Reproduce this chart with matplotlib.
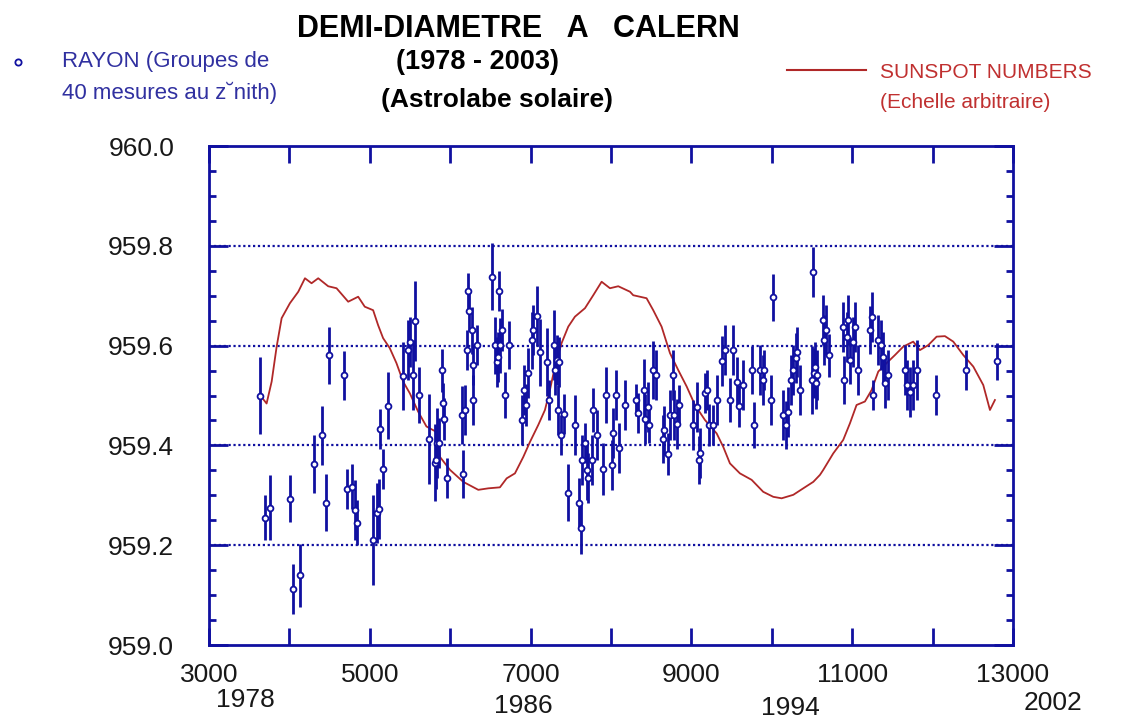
import matplotlib
matplotlib.use("Agg")
import matplotlib.pyplot as plt
import matplotlib.transforms as mtransforms
from matplotlib.ticker import MultipleLocator, FixedLocator, FormatStrFormatter
from matplotlib.lines import Line2D

plt.rcParams['font.family'] = ['Liberation Sans', 'DejaVu Sans']

# Rayon solaire (groupes de 40 mesures), date en JJ - 2440000
jd = [3634, 3697, 3759, 4007, 4045, 4132, 4306, 4405, 4455, 4493,
      4679, 4716, 4779, 4816, 4841, 5040, 5090, 5114, 5127, 5164,
      5226, 5413, 5475, 5500, 5537, 5562, 5612, 5736, 5811, 5823,
      5836, 5861, 5898, 5905, 5923, 5960, 6147, 6159, 6184, 6209,
      6221, 6234, 6271, 6280, 6284, 6333, 6520, 6557, 6582, 6595,
      6607, 6620, 6644, 6682, 6731, 6893, 6918, 6943, 6968, 7017,
      7030, 7080, 7117, 7204, 7229, 7291, 7303, 7328, 7340, 7353,
      7378, 7415, 7465, 7552, 7602, 7627, 7639, 7677, 7701, 7714,
      7764, 7776, 7826, 7900, 7938, 8012, 8025, 8062, 8100, 8174,
      8311, 8336, 8410, 8423, 8460, 8473, 8522, 8560, 8647, 8665,
      8709, 8734, 8771, 8784, 8821, 8846, 9020, 9070, 9095, 9108,
      9169, 9194, 9219, 9269, 9318, 9381, 9418, 9480, 9517, 9567,
      9592, 9642, 9754, 9779, 9853, 9891, 9903, 9990, 10015, 10139,
      10177, 10201, 10239, 10264, 10301, 10313, 10351, 10500, 10512, 10525,
      10537, 10550, 10562, 10637, 10649, 10674, 10711, 10886, 10898, 10935,
      10948, 10973, 11010, 11035, 11072, 11221, 11246, 11259, 11321, 11358,
      11383, 11408, 11445, 11657, 11682, 11719, 11756, 11806, 12042, 12415,
      12801]
rayon = [959.500, 959.255, 959.275, 959.293, 959.112, 959.140, 959.363, 959.420, 959.285, 959.581,
         959.541, 959.313, 959.317, 959.270, 959.245, 959.210, 959.265, 959.272, 959.433, 959.353,
         959.480, 959.539, 959.591, 959.607, 959.541, 959.649, 959.501, 959.413, 959.365, 959.370,
         959.405, 959.405, 959.551, 959.485, 959.453, 959.335, 959.461, 959.343, 959.471, 959.591,
         959.709, 959.669, 959.631, 959.561, 959.491, 959.601, 959.738, 959.601, 959.567, 959.577,
         959.709, 959.601, 959.631, 959.501, 959.601, 959.451, 959.511, 959.481, 959.545, 959.611,
         959.631, 959.659, 959.587, 959.567, 959.491, 959.601, 959.551, 959.571, 959.471, 959.567,
         959.420, 959.463, 959.305, 959.441, 959.285, 959.234, 959.370, 959.405, 959.351, 959.335,
         959.371, 959.471, 959.421, 959.353, 959.501, 959.361, 959.425, 959.501, 959.395, 959.481,
         959.491, 959.465, 959.511, 959.453, 959.477, 959.441, 959.551, 959.541, 959.413, 959.430,
         959.383, 959.461, 959.541, 959.461, 959.443, 959.481, 959.441, 959.477, 959.371, 959.385,
         959.505, 959.511, 959.441, 959.441, 959.491, 959.569, 959.591, 959.491, 959.591, 959.527,
         959.479, 959.521, 959.551, 959.441, 959.551, 959.531, 959.551, 959.491, 959.697, 959.461,
         959.441, 959.467, 959.531, 959.551, 959.575, 959.587, 959.511, 959.531, 959.747, 959.545,
         959.557, 959.525, 959.541, 959.651, 959.611, 959.631, 959.581, 959.637, 959.531, 959.617,
         959.651, 959.571, 959.607, 959.637, 959.551, 959.631, 959.657, 959.501, 959.611, 959.601,
         959.577, 959.525, 959.541, 959.551, 959.521, 959.507, 959.521, 959.551, 959.501, 959.551,
         959.569]
erreur = [0.077, 0.045, 0.065, 0.047, 0.050, 0.063, 0.058, 0.060, 0.057, 0.057,
          0.049, 0.040, 0.045, 0.060, 0.045, 0.090, 0.060, 0.060, 0.040, 0.040,
          0.067, 0.068, 0.060, 0.050, 0.070, 0.080, 0.057, 0.090, 0.077, 0.057,
          0.070, 0.050, 0.043, 0.040, 0.043, 0.040, 0.058, 0.048, 0.050, 0.040,
          0.037, 0.040, 0.047, 0.040, 0.050, 0.040, 0.067, 0.057, 0.050, 0.050,
          0.040, 0.055, 0.042, 0.047, 0.048, 0.050, 0.050, 0.043, 0.050, 0.057,
          0.050, 0.060, 0.067, 0.068, 0.040, 0.070, 0.050, 0.050, 0.050, 0.050,
          0.040, 0.040, 0.057, 0.060, 0.050, 0.052, 0.050, 0.040, 0.060, 0.050,
          0.050, 0.045, 0.050, 0.052, 0.057, 0.050, 0.050, 0.050, 0.050, 0.050,
          0.033, 0.040, 0.063, 0.050, 0.050, 0.037, 0.058, 0.050, 0.048, 0.050,
          0.042, 0.050, 0.050, 0.050, 0.050, 0.040, 0.050, 0.050, 0.048, 0.050,
          0.040, 0.040, 0.043, 0.040, 0.050, 0.050, 0.050, 0.045, 0.050, 0.050,
          0.043, 0.050, 0.048, 0.047, 0.050, 0.050, 0.040, 0.050, 0.047, 0.050,
          0.048, 0.050, 0.050, 0.050, 0.050, 0.050, 0.050, 0.068, 0.050, 0.050,
          0.050, 0.053, 0.050, 0.050, 0.050, 0.050, 0.043, 0.050, 0.048, 0.050,
          0.050, 0.047, 0.050, 0.050, 0.050, 0.048, 0.050, 0.030, 0.050, 0.050,
          0.050, 0.050, 0.050, 0.050, 0.050, 0.050, 0.050, 0.060, 0.040, 0.040,
          0.037]

# Nombre de taches (echelle arbitraire)
ss_jd = [3634, 3717, 3780, 3842, 3904, 4007, 4111, 4194, 4276, 4359,
         4483, 4587, 4732, 4856, 4938, 5042, 5104, 5166, 5249, 5332,
         5415, 5500, 5601, 5705, 5830, 5873, 5998, 6163, 6350, 6475,
         6619, 6703, 6806, 6910, 6993, 7096, 7179, 7241, 7303, 7386,
         7469, 7552, 7677, 7780, 7884, 7988, 8091, 8237, 8277, 8443,
         8526, 8630, 8734, 8837, 8942, 9045, 9169, 9315, 9397, 9480,
         9604, 9750, 9894, 10019, 10123, 10268, 10392, 10517, 10600, 10641,
         10765, 10889, 10972, 11055, 11159, 11242, 11325, 11429, 11532, 11636,
         11760, 11843, 11947, 12051, 12154, 12258, 12383, 12507, 12631, 12714,
         12776]
ss_val = [959.501, 959.484, 959.528, 959.598, 959.655, 959.685, 959.708, 959.735, 959.725, 959.735,
          959.719, 959.715, 959.688, 959.698, 959.678, 959.671, 959.641, 959.615, 959.595, 959.565,
          959.528, 959.504, 959.468, 959.438, 959.427, 959.377, 959.351, 959.327, 959.311, 959.314,
          959.316, 959.334, 959.344, 959.377, 959.407, 959.441, 959.471, 959.511, 959.558, 959.605,
          959.638, 959.658, 959.675, 959.701, 959.728, 959.715, 959.719, 959.708, 959.701, 959.695,
          959.671, 959.638, 959.585, 959.551, 959.518, 959.481, 959.451, 959.424, 959.397, 959.364,
          959.344, 959.331, 959.307, 959.297, 959.294, 959.301, 959.314, 959.327, 959.341, 959.351,
          959.384, 959.411, 959.444, 959.481, 959.488, 959.511, 959.548, 959.565, 959.581, 959.598,
          959.608, 959.591, 959.601, 959.618, 959.619, 959.608, 959.581, 959.558, 959.521, 959.471,
          959.491]

xticks = [3000, 5000, 7000, 9000, 11000, 13000]
annees = ['1978', '1986', '1994', '2002']
annees_x = [3448, 6905, 10226, 13500]
annees_y = [0.033, 0.025, 0.022, 0.029]

bleu = '#1010a0'
rouge = '#b02828'

fig = plt.figure(figsize=(11.21, 7.24), dpi=100)
ax = fig.add_axes([0.1864, 0.1091, 0.7172, 0.6892])

ax.plot(ss_jd, ss_val, color=rouge, lw=1.3, zorder=2)
ax.errorbar(jd, rayon, yerr=erreur, fmt='o', color=bleu, ecolor=bleu,
            elinewidth=2.0, capsize=0, ms=4.2, mfc='white', mec=bleu, mew=1.3, zorder=3)

ax.set_xlim(3000, 13000)
ax.set_ylim(959.0, 960.0)
ax.xaxis.set_major_locator(FixedLocator(xticks))
ax.xaxis.set_minor_locator(MultipleLocator(1000))
ax.yaxis.set_major_locator(MultipleLocator(0.2))
ax.yaxis.set_minor_locator(MultipleLocator(0.05))
ax.yaxis.set_major_formatter(FormatStrFormatter('%.1f'))

for s in ax.spines.values():
    s.set_color(bleu)
    s.set_linewidth(2)

ax.tick_params(axis='x', which='both', direction='in', top=True, length=12, width=2,
               color=bleu, labelsize=19, pad=13)
ax.tick_params(axis='y', which='major', direction='in', right=True, length=14, width=2,
               color=bleu, labelsize=19, pad=25)
ax.tick_params(axis='y', which='minor', direction='in', right=True, length=5, width=2,
               color=bleu)
for lab in ax.get_xticklabels() + ax.get_yticklabels():
    lab.set_color('#181818')

for yv in [959.2, 959.4, 959.6, 959.8]:
    ax.axhline(yv, color=bleu, lw=1.6, ls=(0, (1, 1.2)), zorder=1)

# annees sous l'axe
trans = mtransforms.blended_transform_factory(ax.transData, fig.transFigure)
for t, xv, yv in zip(annees, annees_x, annees_y):
    ax.text(xv, yv, t, transform=trans, ha='center', va='center',
            fontsize=19, color='#181818', clip_on=False)

# titres
fig.text(0.462, 0.960, 'DEMI-DIAMETRE   A   CALERN', ha='center', va='center',
         fontsize=22, fontweight='bold')
fig.text(0.426, 0.915, '(1978 - 2003)', ha='center', va='center',
         fontsize=19.5, fontweight='bold')
fig.text(0.443, 0.862, '(Astrolabe solaire)', ha='center', va='center',
         fontsize=19, fontweight='bold')

# legendes
fig.add_artist(Line2D([18 / 1121], [1 - 62 / 724], marker='o', ms=4.5, mfc='white',
                      mec=bleu, mew=1.3, transform=fig.transFigure))
fig.text(62 / 1121, 1 - 62 / 724, 'RAYON (Groupes de', ha='left', va='center',
         fontsize=16, color='#3030a0')
fig.text(62 / 1121, 1 - 93 / 724, '40 mesures au z\u02d8nith)', ha='left', va='center',
         fontsize=16, color='#3030a0')
fig.add_artist(Line2D([787 / 1121, 866 / 1121], [1 - 70 / 724, 1 - 70 / 724],
                      color=rouge, lw=1.5, transform=fig.transFigure))
fig.text(880 / 1121, 1 - 72 / 724, 'SUNSPOT NUMBERS', ha='left', va='center',
         fontsize=15, color='#c03030')
fig.text(880 / 1121, 1 - 103 / 724, '(Echelle arbitraire)', ha='left', va='center',
         fontsize=15, color='#c03030')

plt.savefig('out.png', dpi=100)
